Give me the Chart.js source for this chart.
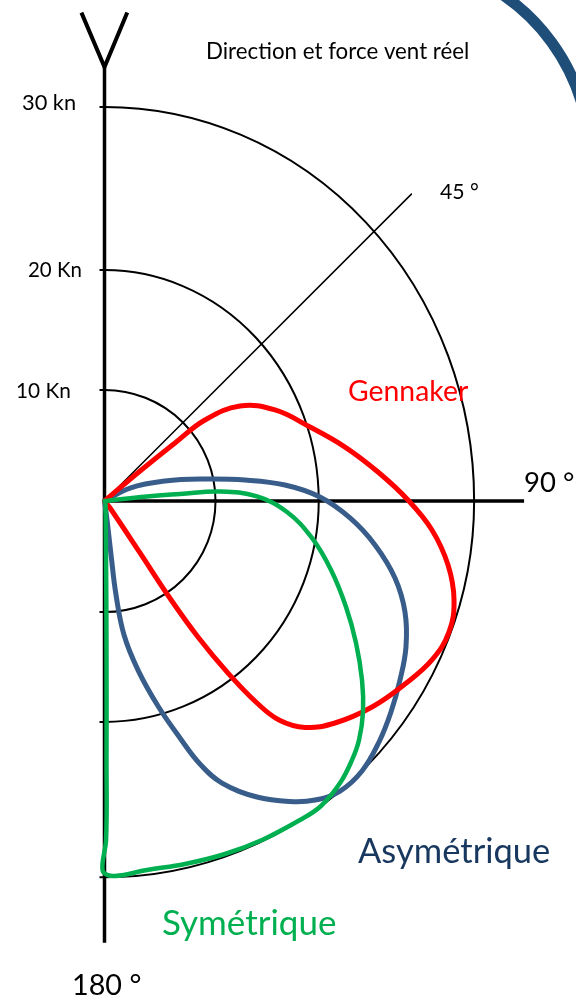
<!DOCTYPE html>
<html>
<head>
<meta charset="utf-8">
<script src="https://cdn.jsdelivr.net/npm/chart.js@4.4.1/dist/chart.umd.min.js"></script>
<style>
html,body{margin:0;padding:0;background:#ffffff;}
#wrap{width:576px;height:998px;position:relative;}
</style>
</head>
<body>
<div id="wrap"><canvas id="c"></canvas></div>
<script>
// ---- Data: boat speed components in knots (x = across the true wind, y = along the wind / VMG) ----
const gennakerX = [0, 3.20, 6.35, 9.05, 12.21, 15.36, 18.51, 21.67, 24.64, 27.34, 29.50, 30.95, 31.49, 31.04, 29.50, 27.07, 24.10, 20.77, 18.06, 15.72, 13.74, 11.13, 8.42, 5.82, 3.20, 0.50, 0];
const gennakerY = [0, 2.70, 5.23, 7.30, 8.56, 8.20, 6.67, 4.86, 2.61, 0.09, -2.61, -5.77, -8.92, -11.80, -14.32, -16.49, -18.56, -20.00, -20.40, -19.73, -18.20, -15.50, -12.25, -8.65, -4.68, -0.63, 0];

const asymX = [0, 2.30, 5.45, 9.05, 12.66, 16.26, 19.41, 22.12, 24.37, 26.17, 27.07, 27.16, 26.62, 25.81, 24.73, 23.20, 21.22, 18.96, 16.71, 13.74, 10.59, 8.60, 6.80, 4.82, 3.02, 1.76, 1.04, 0.59, 0.23, 0];
const asymY = [0, 1.17, 1.80, 1.98, 1.89, 1.44, 0.36, -1.53, -3.96, -6.94, -10.00, -13.15, -16.13, -19.01, -21.71, -24.32, -26.13, -26.94, -27.07, -26.67, -25.41, -23.69, -21.35, -18.47, -15.23, -12.07, -8.47, -4.86, -1.71, 0];

const symX = [0, 3.83, 6.80, 10.41, 13.74, 16.44, 18.69, 20.41, 21.76, 22.66, 23.20, 23.29, 22.93, 22.30, 21.22, 19.50, 17.61, 14.19, 10.86, 7.25, 3.83, 0.95, -0.05, -0.18, 0.14, 0.18, 0.18, 0.14, 0.09];
const symY = [0, 0.41, 0.63, 0.86, 0.41, -0.99, -3.33, -6.22, -9.55, -12.79, -16.13, -19.01, -21.53, -23.33, -25.41, -27.48, -28.74, -30.54, -31.80, -32.70, -33.24, -33.78, -33.51, -32.70, -30.54, -23.33, -13.42, -5.32, 0];

// 45° reference direction (angle, length on the drawing scale)
const refAngle = 45;
const refLength = 39.1;

// wind-force rings (label, radius on the drawing scale)
const ringLabels = ['10 Kn', '20 Kn', '30 kn'];
const ringRadiusX = [10, 19.3, 33.3];
const ringRadiusUp = [10, 20.8, 35.5];
const ringRadiusDown = [10, 19.9, 33.9];

const angleLabels = ['45 °', '90 °', '180 °'];
const seriesNames = ['Gennaker', 'Asymétrique', 'Symétrique'];
const titleText = 'Direction et force vent réel';

const pts = (xs, ys) => xs.map((v, i) => ({ x: v, y: ys[i] }));

const FONT = 'Lato, "Open Sans", sans-serif';
function fitText(ctx, text, left, baseline, width, color) {
  ctx.font = '100px ' + FONT;
  let m = ctx.measureText(text);
  const ink = m.actualBoundingBoxLeft + m.actualBoundingBoxRight;
  const size = 100 * width / ink;
  ctx.font = size.toFixed(2) + 'px ' + FONT;
  m = ctx.measureText(text);
  ctx.fillStyle = color;
  ctx.textAlign = 'left';
  ctx.textBaseline = 'alphabetic';
  ctx.fillText(text, left + m.actualBoundingBoxLeft, baseline);
}

const decor = {
  id: 'polarDecor',
  beforeDatasetsDraw(chart) {
    const { ctx, scales: { x, y } } = chart;
    const cx = x.getPixelForValue(0), cy = y.getPixelForValue(0);
    const hx = v => x.getPixelForValue(v) - cx;
    const vy = v => cy - y.getPixelForValue(v);
    ctx.save();
    ctx.strokeStyle = '#000';
    ctx.lineWidth = 2;
    for (let i = 0; i < ringLabels.length; i++) {
      ctx.beginPath();
      ctx.ellipse(cx, cy, hx(ringRadiusX[i]), vy(ringRadiusUp[i]), 0, -Math.PI / 2, 0);
      ctx.stroke();
      ctx.beginPath();
      ctx.ellipse(cx, cy, hx(ringRadiusX[i]), vy(ringRadiusDown[i]), 0, 0, Math.PI / 2);
      ctx.stroke();
      ctx.beginPath();
      ctx.moveTo(cx - 5, y.getPixelForValue(ringRadiusUp[i]));
      ctx.lineTo(cx, y.getPixelForValue(ringRadiusUp[i]));
      ctx.moveTo(cx - 5, y.getPixelForValue(-ringRadiusDown[i]));
      ctx.lineTo(cx, y.getPixelForValue(-ringRadiusDown[i]));
      ctx.stroke();
    }
    // axes
    ctx.lineWidth = 3.5;
    ctx.lineCap = 'butt';
    ctx.beginPath();
    ctx.moveTo(cx, y.getPixelForValue(39.1));
    ctx.lineTo(cx, y.getPixelForValue(-39.8));
    ctx.moveTo(cx, cy);
    ctx.lineTo(x.getPixelForValue(37.8), cy);
    ctx.stroke();
    // wind vane "Y"
    ctx.lineWidth = 4;
    ctx.lineJoin = 'miter';
    ctx.beginPath();
    ctx.moveTo(x.getPixelForValue(-2.08), y.getPixelForValue(44.0));
    ctx.lineTo(cx, y.getPixelForValue(39.1));
    ctx.lineTo(x.getPixelForValue(2.05), y.getPixelForValue(44.0));
    ctx.stroke();
    ctx.restore();
  },
  afterDraw(chart) {
    const { ctx } = chart;
    ctx.save();
    // decorative slide arc
    ctx.strokeStyle = '#1F4E79';
    ctx.lineWidth = 11;
    ctx.beginPath();
    ctx.arc(390, 160, 200, -62 * Math.PI / 180, -10 * Math.PI / 180);
    ctx.stroke();
    // texts
    fitText(ctx, titleText, 208, 59, 260, '#000');
    fitText(ctx, ringLabels[2], 22, 110, 52, '#000');
    fitText(ctx, ringLabels[1], 28, 277, 52, '#000');
    fitText(ctx, ringLabels[0], 17, 398, 52, '#000');
    fitText(ctx, angleLabels[0], 440, 199, 38, '#000');
    fitText(ctx, angleLabels[1], 525, 492, 48, '#000');
    fitText(ctx, angleLabels[2], 74, 995, 66, '#000');
    fitText(ctx, seriesNames[0], 349, 401, 119, '#FF0000');
    fitText(ctx, seriesNames[1], 358, 863, 191, '#17375E');
    fitText(ctx, seriesNames[2], 163, 935, 172, '#00B050');
    ctx.restore();
  }
};

const PX = 11.1; // pixels per unit
const W = 576, H = 998, OX = 104.5, OY = 501;
const xMin = -OX / PX, xMax = xMin + W / PX;
const yMax = OY / PX, yMin = yMax - H / PX;

const lineDs = (label, data, color, width, tension) => ({
  label, data, borderColor: color, backgroundColor: color, borderWidth: width,
  showLine: true, pointRadius: 0, pointHoverRadius: 0, tension: tension, fill: false,
  clip: false, borderCapStyle: 'round', borderJoinStyle: 'round'
});

const refRad = refAngle * Math.PI / 180;
const refData = [{ x: 0, y: 0 }, { x: refLength * Math.sin(refRad), y: refLength * Math.cos(refRad) }];

new Chart(document.getElementById('c'), {
  type: 'scatter',
  data: {
    datasets: [
      lineDs(seriesNames[2], pts(symX, symY), '#00B050', 4.5, 0.4),
      lineDs(seriesNames[0], pts(gennakerX, gennakerY), '#FF0000', 5, 0.4),
      lineDs(seriesNames[1], pts(asymX, asymY), '#385D8A', 5, 0.4),
      lineDs('45°', refData, '#000000', 1.5, 0)
    ]
  },
  options: {
    responsive: true,
    maintainAspectRatio: false,
    animation: false,
    devicePixelRatio: 1,
    events: [],
    layout: { padding: 0 },
    plugins: { legend: { display: false }, tooltip: { enabled: false }, title: { display: false } },
    scales: {
      x: { type: 'linear', display: false, min: xMin, max: xMax },
      y: { type: 'linear', display: false, min: yMin, max: yMax }
    }
  },
  plugins: [decor]
});
</script>
</body>
</html>
